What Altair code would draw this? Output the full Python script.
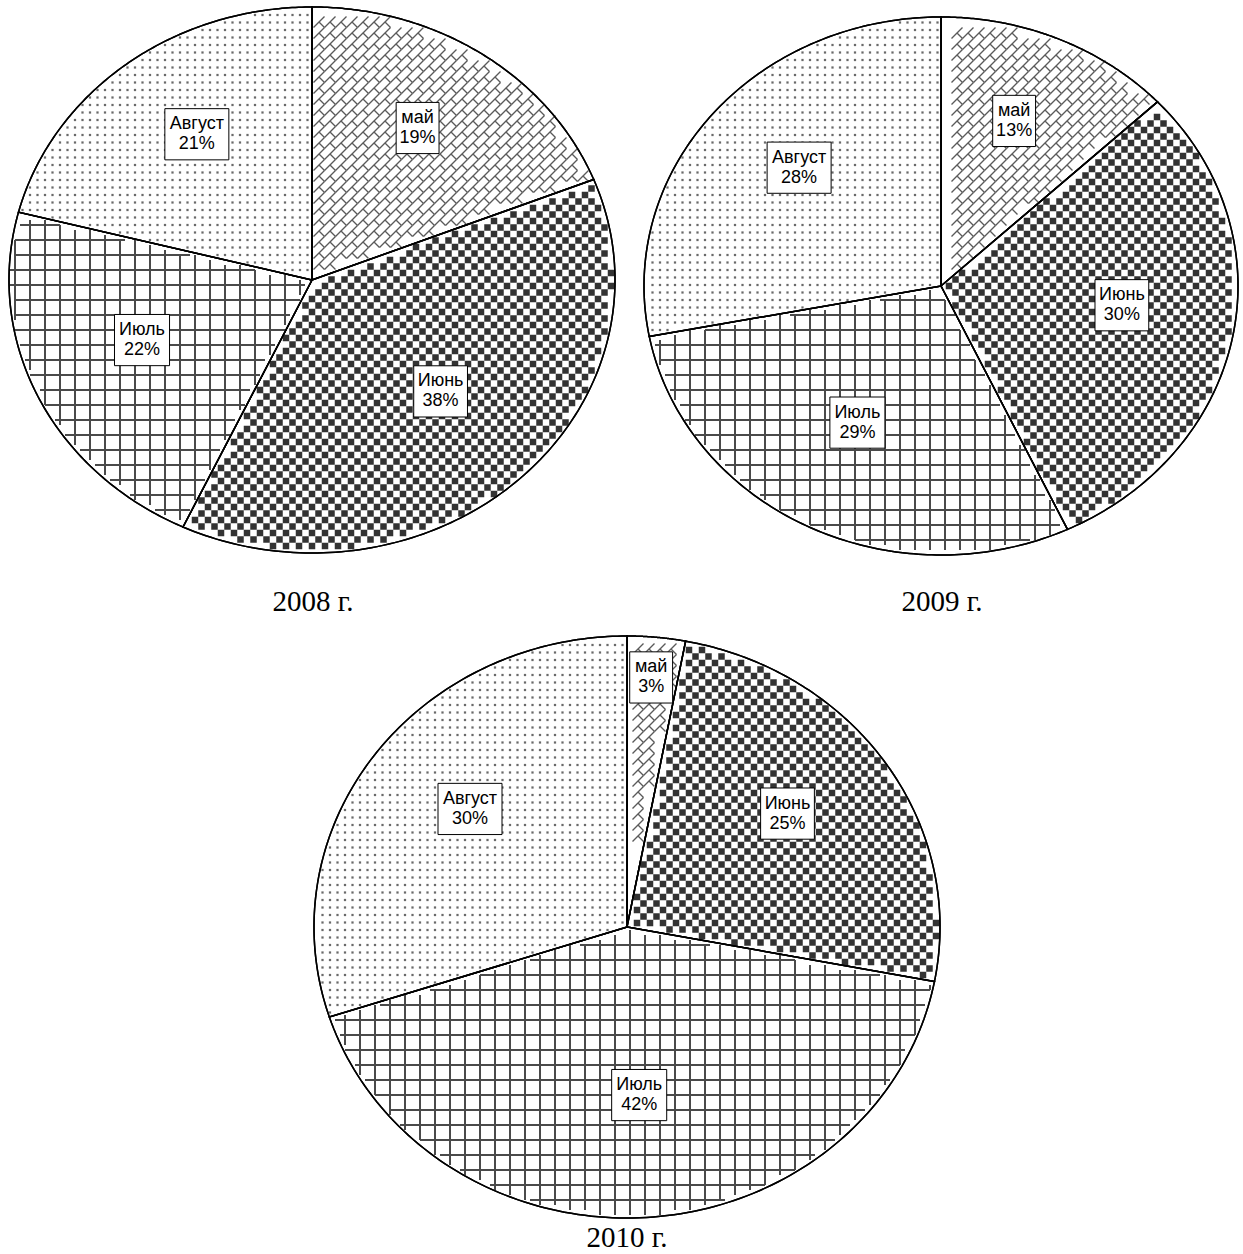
import math
import altair as alt
import pandas as pd

# ---- data ----
years = ["2008", "2009", "2010"]
months = ["май", "Июнь", "Июль", "Август"]
share_2008 = [19, 38, 22, 21]
share_2009 = [13, 30, 29, 28]
share_2010 = [3, 25, 42, 30]
year_suffix = " г."

rows = []
for yr, shares in zip(years, [share_2008, share_2009, share_2010]):
    for i, (m, v) in enumerate(zip(months, shares)):
        rows.append({"year": yr, "month": m, "order": i, "share": v})
df = pd.DataFrame(rows)
titles_df = pd.DataFrame({"year": years, "label": [y + year_suffix for y in years]})

# ---- layout / style (pixels) ----
W, H = 1243, 1254
geom = {"2008": (312, 280, 303, 273), "2009": (941, 286, 297, 269), "2010": (627, 927, 313, 291)}
title_pos = {"2008": (313, 602), "2009": (942, 602), "2010": (627, 1238)}
box_paths = [
    "M-0.67,-0.8H0.67V0.8H-0.67Z",
    "M-0.84,-0.8H0.84V0.8H-0.84Z",
    "M-0.86,-0.8H0.86V0.8H-0.86Z",
    "M-1,-0.8H1V0.8H-1Z",
]
N = 120

xs = alt.Scale(domain=[0, W], nice=False, zero=False)
ys = alt.Scale(domain=[0, H], nice=False, zero=False, reverse=True)
X = lambda f: alt.X(f, scale=xs, axis=None)
Y = lambda f: alt.Y(f, scale=ys, axis=None)


def prep(yr):
    return (
        alt.Chart(df)
        .transform_filter(alt.datum.year == yr)
        .transform_window(cum="sum(share)", sort=[alt.SortField("order")], frame=[None, 0])
        .transform_joinaggregate(total="sum(share)")
        .transform_calculate(
            a0="2*PI*(datum.cum - datum.share)/datum.total",
            a1="2*PI*datum.cum/datum.total",
        )
    )


def outline(yr):
    cx, cy, rx, ry = geom[yr]
    return (
        prep(yr)
        .transform_calculate(k=f"sequence(0, {N + 2})")
        .transform_flatten(["k"])
        .transform_calculate(
            ang=f"datum.a0 + (datum.a1 - datum.a0) * (datum.k - 1) / {N}",
            px=f"datum.k == 0 ? {cx} : {cx} + {rx} * sin(datum.ang)",
            py=f"datum.k == 0 ? {cy} : {cy} - {ry} * cos(datum.ang)",
        )
    )


def edge_dist(cx, cy, rx, ry, a):
    return (f"abs((datum.px-{cx})*{ry}*cos(datum.{a}) - ({cy}-datum.py)*{rx}*sin(datum.{a}))"
            f"/sqrt(pow({ry}*cos(datum.{a}),2)+pow({rx}*sin(datum.{a}),2))")


def pattern(yr, month, sx, sy, px_expr, py_expr, m):
    """grid of points over the pie box, kept only inside the slice (margin m px)"""
    cx, cy, rx, ry = geom[yr]
    i0, i1 = math.floor((cx - rx) / sx) - 1, math.ceil((cx + rx) / sx) + 2
    j0, j1 = math.floor((cy - ry) / sy) - 1, math.ceil((cy + ry) / sy) + 2
    inside = (
        f"pow((datum.px-{cx})/({rx}-{m}),2) + pow(({cy}-datum.py)/({ry}-{m}),2) <= 1"
        f" && datum.t >= datum.a0 && datum.t <= datum.a1"
        f" && {edge_dist(cx, cy, rx, ry, 'a0')} >= {m}"
        f" && {edge_dist(cx, cy, rx, ry, 'a1')} >= {m}"
    )
    return (
        prep(yr)
        .transform_filter(alt.datum.month == month)
        .transform_calculate(ii=f"sequence({i0}, {i1})")
        .transform_flatten(["ii"])
        .transform_calculate(jj=f"sequence({j0}, {j1})")
        .transform_flatten(["jj"])
        .transform_calculate(px=px_expr, py=py_expr)
        .transform_calculate(t0=f"atan2((datum.px-{cx})/{rx}, ({cy}-datum.py)/{ry})")
        .transform_calculate(t="datum.t0 < 0 ? datum.t0 + 2*PI : datum.t0")
        .transform_filter(inside)
    )


layers = []
for yr in years:
    cx, cy, rx, ry = geom[yr]
    # white slice bodies
    layers.append(
        outline(yr).mark_line(interpolate="linear-closed", fill="white", stroke="black", strokeWidth=1.5)
        .encode(x=X("px:Q"), y=Y("py:Q"), detail="month:N", order="k:Q")
    )
    # май: diagonal brick
    T = 11
    layers.append(
        pattern(yr, "май", T, T, f"datum.ii*{T}", f"datum.jj*{T}", 6)
        .mark_point(shape="M-1,1L1,-1M0,0L1,1", size=T * T, filled=False,
                    stroke="#5a5a5a", strokeWidth=1.4, opacity=1)
        .encode(x=X("px:Q"), y=Y("py:Q"))
    )
    # Июнь: checkerboard
    s = 6.5
    layers.append(
        pattern(yr, "Июнь", s, s, f"datum.ii*{s}", f"datum.jj*{s}", 3.5)
        .transform_filter("(datum.ii + datum.jj) % 2 == 0")
        .mark_square(size=s * s, color="#333333", opacity=1, filled=True)
        .encode(x=X("px:Q"), y=Y("py:Q"))
    )
    # Июль: square grid (horizontal & vertical segments)
    g, seg = 15, 5
    layers.append(
        pattern(yr, "Июль", seg, g, f"datum.ii*{seg} + {seg / 2}", f"datum.jj*{g}", 3)
        .mark_point(shape="M-1,0H1", size=seg * seg, filled=False,
                    stroke="#4a4a4a", strokeWidth=2, opacity=1)
        .encode(x=X("px:Q"), y=Y("py:Q"))
    )
    layers.append(
        pattern(yr, "Июль", g, seg, f"datum.ii*{g}", f"datum.jj*{seg} + {seg / 2}", 3)
        .mark_point(shape="M0,-1V1", size=seg * seg, filled=False,
                    stroke="#4a4a4a", strokeWidth=2, opacity=1)
        .encode(x=X("px:Q"), y=Y("py:Q"))
    )
    # Август: dots
    d = 7.5
    layers.append(
        pattern(yr, "Август", d, d, f"datum.ii*{d}", f"datum.jj*{d}", 2)
        .mark_square(size=5, color="#6a6a6a", opacity=1, filled=True)
        .encode(x=X("px:Q"), y=Y("py:Q"))
    )
    # outlines on top
    layers.append(
        outline(yr).mark_line(interpolate="linear-closed", stroke="black", strokeWidth=1.5)
        .encode(x=X("px:Q"), y=Y("py:Q"), detail="month:N", order="k:Q")
    )
    # labels
    lab = prep(yr).transform_calculate(
        mid="(datum.a0 + datum.a1) / 2",
        rr="datum.share < 5 ? 0.82 : 0.62",
    ).transform_calculate(
        lx=f"{cx} + {rx} * datum.rr * sin(datum.mid)",
        ly=f"{cy} - {ry} * datum.rr * cos(datum.mid) - 12",
        label="[datum.month, datum.share + '%']",
    )
    layers.append(
        lab.mark_point(filled=True, fill="white", stroke="black", strokeWidth=1,
                       opacity=1, fillOpacity=1, size=4096)
        .encode(x=X("lx:Q"), y=Y("ly:Q"),
                shape=alt.Shape("month:N", scale=alt.Scale(domain=months, range=box_paths), legend=None))
    )
    layers.append(
        lab.mark_text(font="Liberation Sans", fontSize=18, lineHeight=20, dy=-10,
                      baseline="middle", align="center", color="black")
        .encode(x=X("lx:Q"), y=Y("ly:Q"), text=alt.Text("label:N"))
    )
    tx, ty = title_pos[yr]
    layers.append(
        alt.Chart(titles_df)
        .transform_filter(alt.datum.year == yr)
        .mark_text(font="Liberation Serif", fontSize=29, baseline="middle", align="center", color="black")
        .encode(x=alt.value(tx), y=alt.value(ty), text="label:N")
    )

chart = (
    alt.layer(*layers)
    .properties(width=W, height=H, autosize=alt.AutoSizeParams(type="none"), padding=0)
    .configure_view(stroke=None)
)

chart.save("out.html", embed_options={"renderer": "svg", "actions": False})
